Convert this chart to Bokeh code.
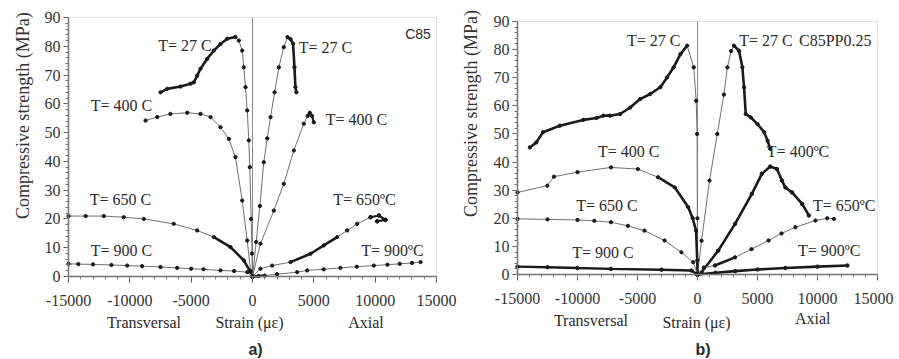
import math
import numpy as np
from bokeh.plotting import figure
from bokeh.models import Label, FixedTicker, LinearAxis, Range1d, BoxAnnotation
from bokeh.core.properties import value
from bokeh.layouts import row
from bokeh.embed import file_html
from bokeh.resources import INLINE

# ---------------- data: panel a) C85 ----------------
A_T27_TRANS_STRAIN = [0, -40, -110, -220, -300, -430, -570, -710, -840, -1110, -1390,
                      -2060, -2610, -3150, -3700, -4240, -4510, -4780, -5050, -5870, -6960, -7500]
A_T27_TRANS_STRESS = [0, 8, 20, 38, 47.3, 57.7, 65.8, 72.7, 78.5, 82, 83.2,
                      82.6, 80.8, 78.5, 75.6, 72.2, 69.8, 67.5, 67, 66, 65.2, 64]
A_T27_AXIAL_STRAIN = [0, 300, 600, 920, 1200, 1470, 1800, 2150, 2550, 2850, 3100, 3310, 3420, 3500, 3580]
A_T27_AXIAL_STRESS = [0, 12, 24.5, 39.7, 48, 55.4, 64, 72.7, 79.7, 83.2, 82.5, 80.9, 72.7, 65.8, 64]

A_T400_TRANS_STRAIN = [0, -160, -430, -840, -1390, -1930, -2610, -3420, -4240, -5320, -6690, -7770, -8720]
A_T400_TRANS_STRESS = [0, 2, 12.5, 26.4, 41.5, 47.8, 51.9, 55.4, 56.5, 56.9, 56.5, 55.4, 54.2]
A_T400_AXIAL_STRAIN = [0, 650, 1740, 2550, 3370, 4180, 4500, 4670, 4850, 5000]
A_T400_AXIAL_STRESS = [0, 11.4, 22.9, 32.2, 43.8, 53.1, 55.8, 56.9, 55.8, 53.6]

A_T650_TRANS_STRAIN = [0, -160, -710, -1790, -3150, -4510, -6420, -8860, -10500, -12120, -13600, -15000]
A_T650_TRANS_STRESS = [0, 1.5, 5.6, 10.2, 13.7, 16.0, 18.3, 20.0, 20.6, 21.0, 21.0, 21.0]
A_T650_AXIAL_STRAIN = [0, 650, 1600, 3100, 4730, 5810, 6900, 7720, 8530, 9620, 10300, 10840, 10160]
A_T650_AXIAL_STRESS = [0, 2.7, 3.8, 5.0, 7.9, 10.8, 13.7, 16.0, 18.3, 20.6, 21.2, 19.7, 19.2]

A_T900_TRANS_STRAIN = [0, -430, -1500, -2610, -4000, -5000, -6140, -7500, -9000, -10210, -11500, -13000, -14200, -15000]
A_T900_TRANS_STRESS = [0, 1.5, 1.9, 2.1, 2.5, 2.7, 3.0, 3.3, 3.6, 3.8, 4.0, 4.2, 4.3, 4.4]
A_T900_AXIAL_STRAIN = [0, 500, 1000, 2000, 3640, 4460, 5800, 7170, 8500, 9890, 11000, 12000, 13000, 13700]
A_T900_AXIAL_STRESS = [0, 0.2, 0.3, 0.8, 1.5, 2.1, 2.5, 3.0, 3.4, 3.8, 4.1, 4.4, 4.7, 5.0]

# ---------------- data: panel b) C85PP0.25 ----------------
B_T27_TRANS_STRAIN = [0, -10, -30, -110, -310, -865, -1420, -1990, -2540, -3100, -3940, -4780,
                      -5610, -6450, -7290, -7850, -8410, -9530, -11480, -12880, -13430, -13970]
B_T27_TRANS_STRESS = [0, 20, 50, 61.8, 73.7, 81.4, 78.4, 73.7, 70.1, 66.6, 64.2, 62.4,
                      59.4, 57.1, 56.5, 56.5, 55.7, 55.0, 52.9, 50.6, 47.0, 45.2]
B_T27_AXIAL_STRAIN = [0, 335, 1000, 1650, 2200, 2490, 2800, 3040, 3460, 3740, 3880, 4020, 4440, 5000, 5560, 5840, 6060]
B_T27_AXIAL_STRESS = [0, 12, 33.4, 50, 64, 73.7, 79.5, 81.4, 79.6, 73.7, 66.6, 57.1, 55.9, 53.5, 50.6, 47.6, 44.7]

B_T400_TRANS_STRAIN = [0, -20, -120, -400, -780, -1900, -3290, -4970, -7210, -10000, -11960, -12510, -15000]
B_T400_TRANS_STRESS = [0, 5, 15.6, 20, 24, 31.0, 34.6, 37.5, 38.1, 36.4, 34.8, 31.6, 29.2]
B_T400_AXIAL_STRAIN = [0, 335, 1730, 3130, 4530, 5360, 6060, 6620, 7040, 7320, 7880, 8720, 9280]
B_T400_AXIAL_STRESS = [0, 0.8, 8.5, 18.0, 28.7, 35.8, 38.4, 37.5, 33.4, 31.0, 29.2, 25.1, 21.0]

B_T650_TRANS_STRAIN = [0, -360, -1340, -2740, -4420, -5800, -7210, -8600, -10000, -12500, -15000]
B_T650_TRANS_STRESS = [0, 4.4, 7.9, 12.1, 15.6, 17.3, 18.6, 19.1, 19.4, 19.6, 19.8]
B_T650_AXIAL_STRAIN = [0, 530, 1450, 3130, 4500, 5920, 7000, 8150, 9830, 10810, 11370]
B_T650_AXIAL_STRESS = [0, 2.5, 3.2, 6.1, 9.0, 12.1, 14.6, 16.8, 19.2, 20.0, 19.8]

B_T900_TRANS_STRAIN = [0, -500, -3000, -7210, -10000, -12500, -15000]
B_T900_TRANS_STRESS = [0, 1.4, 1.7, 2.0, 2.3, 2.6, 2.8]
B_T900_AXIAL_STRAIN = [0, 1500, 3130, 5000, 7320, 10000, 12490]
B_T900_AXIAL_STRESS = [0, 0.6, 1.2, 1.8, 2.3, 2.8, 3.2]

# ---------------- axes / tick labels ----------------
X_MIN, X_MAX = -15000, 15000
Y_MIN, Y_MAX = 0, 90
X_TICKS = [-15000, -10000, -5000, 0, 5000, 10000, 15000]
X_MINOR = list(range(-15000, 15001, 1000))
Y_TICKS = [0, 10, 20, 30, 40, 50, 60, 70, 80, 90]
Y_MINOR = list(range(0, 91, 2))
Y_LABEL = "Compressive strength (MPa)"
SUB_LABELS = ["Transversal", "Strain (με)", "Axial"]

SERIF = "Liberation Serif"
INK = "#1a1a1a"
THIN = "#707070"
AXC = "#666666"
TXT = "#2a2a2a"


def make_panel(fig_w, fig_h, plot_left, plot_w, plot_top, plot_h, ylab_y, ylab_dx, last_dx=0):
    """plot_* = pixel box of the 0..90 / -15000..15000 data area inside the figure."""
    xs = (X_MAX - X_MIN) / plot_w
    ys = (Y_MAX - Y_MIN) / plot_h
    x_range = Range1d(X_MIN - plot_left * xs, X_MAX + (fig_w - plot_left - plot_w) * xs)
    y_range = Range1d(Y_MIN - (fig_h - plot_top - plot_h) * ys, Y_MAX + plot_top * ys)
    p = figure(width=fig_w, height=fig_h, x_range=x_range, y_range=y_range,
               output_backend="svg", toolbar_location=None, title=None,
               x_axis_location=None, y_axis_location=None,
               min_border_left=0, min_border_right=0, min_border_top=0, min_border_bottom=0)
    p.grid.visible = False
    p.outline_line_color = None

    xa = LinearAxis(ticker=FixedTicker(ticks=X_TICKS, minor_ticks=X_MINOR),
                    major_label_overrides={t: "" for t in X_TICKS},
                    fixed_location=Y_MIN, bounds=(X_MIN, X_MAX))
    ya = LinearAxis(ticker=FixedTicker(ticks=Y_TICKS, minor_ticks=Y_MINOR),
                    major_label_overrides={t: "" for t in Y_TICKS},
                    fixed_location=X_MIN, bounds=(Y_MIN, Y_MAX))
    for ax in (xa, ya):
        ax.axis_line_color = AXC
        ax.axis_line_width = 1.5
        ax.major_tick_line_color = "#555555"
        ax.minor_tick_line_color = "#777777"
        ax.major_tick_in = 0
        ax.minor_tick_in = 0
        ax.minor_tick_out = 3
    xa.major_tick_out = 6
    ya.major_tick_out = 5
    p.add_layout(xa, "below")
    p.add_layout(ya, "left")

    # tick labels, drawn from the tick lists through the plot scales
    x_off = [0] * (len(X_TICKS) - 1) + [last_dx]
    p.text(x=X_TICKS, y=[Y_MIN] * len(X_TICKS), text=[str(t) for t in X_TICKS],
           text_font=value(SERIF), text_font_size="16px", text_color="#333333",
           text_align="center", text_baseline="middle", y_offset=24, x_offset=x_off)
    p.text(x=[X_MIN] * len(Y_TICKS), y=Y_TICKS, text=[str(t) for t in Y_TICKS],
           text_font=value(SERIF), text_font_size="16px", text_color="#333333",
           text_align="right", text_baseline="middle", x_offset=-8)
    p.add_layout(Label(x=X_MIN, y=ylab_y, x_offset=ylab_dx, text=Y_LABEL, angle=math.pi / 2,
                       text_font=SERIF, text_font_size="18px", text_color="#333333",
                       text_align="center", text_baseline="middle"))

    # top / right frame lines and the zero-strain line
    p.add_layout(BoxAnnotation(left=X_MIN, right=X_MAX, bottom=Y_MIN, top=Y_MAX,
                               fill_alpha=0, line_color="#9a9a9a", line_width=1))
    p.line([0, 0], [Y_MIN, Y_MAX], line_color="#8a8a8a", line_width=1)
    return p


def curve(p, xs, ys, thick=None, after_peak=False, all_thick=False, w=2.6):
    xs = np.asarray(xs, dtype=float)
    ys = np.asarray(ys, dtype=float)
    if all_thick:
        p.line(xs, ys, line_color=INK, line_width=w)
        p.scatter(xs, ys, marker="circle", size=3.5, fill_color=INK, line_color=INK)
        return
    p.line(xs, ys, line_color=THIN, line_width=1)
    p.scatter(xs, ys, marker="circle", size=3.3, fill_color=INK, line_color=INK)
    if after_peak:
        i = int(np.argmax(ys))
        p.line(xs[i:], ys[i:], line_color=INK, line_width=w)
    if thick is not None:
        lo, hi = thick
        m = (xs >= lo) & (xs <= hi)
        p.line(xs[m], ys[m], line_color=INK, line_width=w)


def txt(p, x, y, s, size="16px", font=SERIF, style="normal"):
    p.add_layout(Label(x=x, y=y, text=s, text_font=font, text_font_size=size,
                       text_font_style=style, text_color=TXT,
                       text_align="center", text_baseline="middle"))


# ---------------- panel a ----------------
pa = make_panel(459, 359, 68, 368, 17, 259, 55.9, -46)
curve(pa, A_T27_TRANS_STRAIN, A_T27_TRANS_STRESS, after_peak=True)
curve(pa, A_T27_AXIAL_STRAIN, A_T27_AXIAL_STRESS, after_peak=True)
curve(pa, A_T400_TRANS_STRAIN, A_T400_TRANS_STRESS)
curve(pa, A_T400_AXIAL_STRAIN, A_T400_AXIAL_STRESS, thick=(4500, 5000), w=2.2)
curve(pa, A_T650_TRANS_STRAIN, A_T650_TRANS_STRESS, thick=(-3700, -150))
curve(pa, A_T650_AXIAL_STRAIN, A_T650_AXIAL_STRESS, thick=(3000, 7000))
curve(pa, A_T650_AXIAL_STRAIN[-4:], A_T650_AXIAL_STRESS[-4:], all_thick=True, w=2.2)
curve(pa, A_T900_TRANS_STRAIN, A_T900_TRANS_STRESS)
curve(pa, A_T900_AXIAL_STRAIN, A_T900_AXIAL_STRESS, thick=(0, 1000))

txt(pa, -5500, 80.1, "T= 27 C")
txt(pa, 5950, 79.6, "T= 27 C")
txt(pa, 13490, 84.1, "C85", size="14px", font="Liberation Sans")
txt(pa, -10680, 59.4, "T= 400 C")
txt(pa, 8480, 54.7, "T= 400 C")
txt(pa, -10760, 26.8, "T= 650 C")
txt(pa, 9130, 26.8, "T= 650ºC")
txt(pa, -10680, 9.0, "T= 900 C")
txt(pa, 11410, 9.0, "T= 900ºC")
txt(pa, -8850, -16.0, SUB_LABELS[0])
txt(pa, -245, -16.0, SUB_LABELS[1])
txt(pa, 9250, -16.0, SUB_LABELS[2])
txt(pa, 245, -25.3, "a)", size="16px", font="Liberation Sans", style="bold")

# ---------------- panel b ----------------
pb = make_panel(440, 359, 58, 360, 21, 253, 57.3, -47, last_dx=-4)
curve(pb, B_T27_TRANS_STRAIN, B_T27_TRANS_STRESS, after_peak=True)
curve(pb, B_T27_AXIAL_STRAIN, B_T27_AXIAL_STRESS, after_peak=True)
curve(pb, B_T400_TRANS_STRAIN, B_T400_TRANS_STRESS, thick=(-3300, 0))
curve(pb, B_T400_AXIAL_STRAIN, B_T400_AXIAL_STRESS, all_thick=True)
curve(pb, B_T650_TRANS_STRAIN, B_T650_TRANS_STRESS)
curve(pb, B_T650_AXIAL_STRAIN, B_T650_AXIAL_STRESS, thick=(1400, 3200))
curve(pb, B_T900_TRANS_STRAIN, B_T900_TRANS_STRESS, all_thick=True, w=2.4)
curve(pb, B_T900_AXIAL_STRAIN, B_T900_AXIAL_STRESS, all_thick=True, w=2.6)

txt(pb, -3645, 83.3, "T= 27 C")
txt(pb, 5700, 83.3, "T= 27 C")
txt(pb, 11480, 83.3, "C85PP0.25")
txt(pb, -5740, 43.9, "T= 400 C")
txt(pb, 8380, 43.9, "T= 400ºC")
txt(pb, -7540, 24.7, "T= 650 C")
txt(pb, 12230, 24.7, "T= 650ºC")
txt(pb, -7880, 8.0, "T= 900 C")
txt(pb, 10980, 8.5, "T= 900ºC")
txt(pb, -8880, -16.2, SUB_LABELS[0])
txt(pb, -80, -17.2, SUB_LABELS[1])
txt(pb, 9600, -15.8, SUB_LABELS[2])
txt(pb, 460, -26.8, "b)", size="16px", font="Liberation Sans", style="bold")

layout = row(pa, pb)
open("out.html", "w").write(file_html(layout, INLINE))
